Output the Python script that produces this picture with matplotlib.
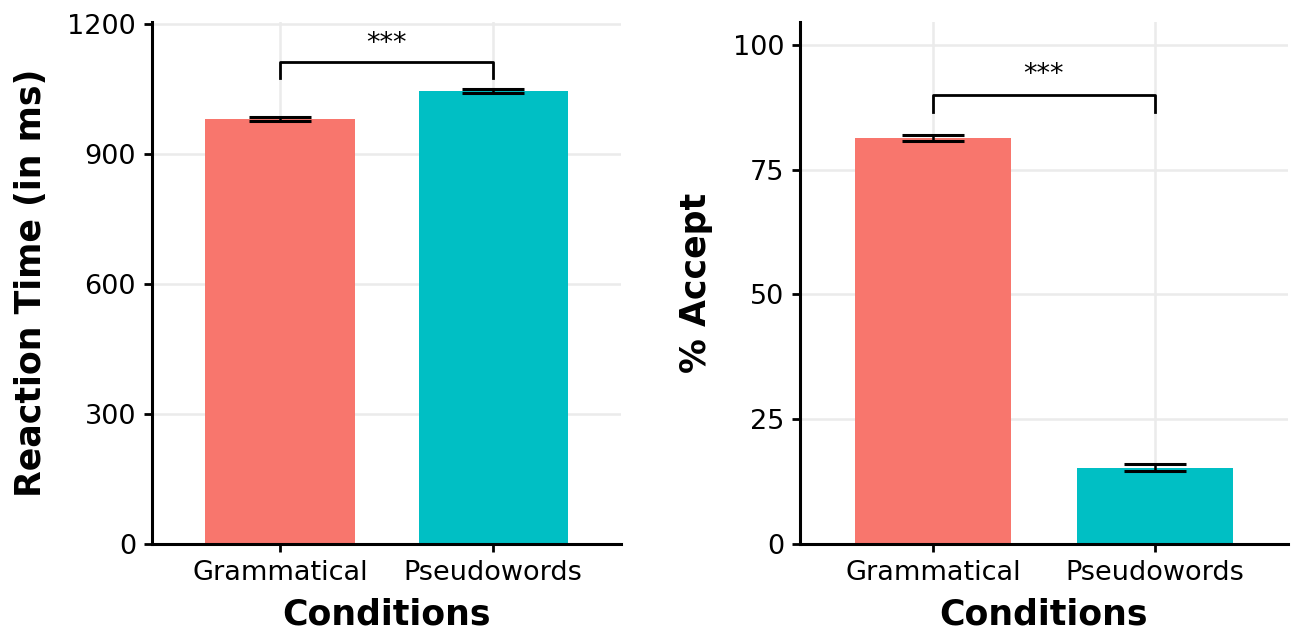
import matplotlib.pyplot as plt

# Data
conditions = ["Grammatical", "Pseudowords"]
colors = ["#F8766D", "#00BFC4"]

rt_mean = [981, 1046]
rt_err = [5.5, 5.0]

acc_mean = [81.4, 15.3]
acc_err = [0.65, 0.7]

fig = plt.figure(figsize=(12.93, 6.33), dpi=100)
ax1 = fig.add_axes([0.1176, 0.1406, 0.3627, 0.8246])
ax2 = fig.add_axes([0.6187, 0.1406, 0.3774, 0.8246])


def panel(ax, means, errs, ylabel, yticks, ylim, br_top, br_low, star_y):
    x = range(len(conditions))
    ax.bar(x, means, width=0.7, color=colors, zorder=2,
           yerr=errs, error_kw=dict(ecolor="black", elinewidth=1.8,
                                    capsize=22, capthick=2.2, zorder=3))
    # significance bracket
    ax.plot([0, 0, 1, 1], [br_low, br_top, br_top, br_low],
            color="black", lw=2.0, zorder=3)
    ax.text(0.5, star_y, "***", ha="center", va="center", fontsize=19.5)

    ax.set_xlim(-0.6, 1.6)
    ax.set_ylim(*ylim)
    ax.set_xticks(list(x))
    ax.set_xticklabels(conditions)
    ax.set_yticks(yticks)
    ax.grid(True, color="#ebebeb", lw=1.8, zorder=0)
    ax.set_axisbelow(True)
    for s in ["top", "right"]:
        ax.spines[s].set_visible(False)
    for s in ["left", "bottom"]:
        ax.spines[s].set_linewidth(2.2)
    ax.tick_params(axis="both", labelsize=19.5, width=2.0, length=5.5,
                   color="black", pad=6)
    ax.set_xlabel("Conditions", fontsize=25, fontweight="bold", labelpad=8)
    ax.set_ylabel(ylabel, fontsize=25, fontweight="bold", labelpad=14)


panel(ax1, rt_mean, rt_err, "Reaction Time (in ms)",
      [0, 300, 600, 900, 1200], (0, 1205), 1112, 1075, 1154)
panel(ax2, acc_mean, acc_err, "% Accept",
      [0, 25, 50, 75, 100], (0, 104.6), 90, 86.6, 94)

fig.savefig("out.png", dpi=100)
